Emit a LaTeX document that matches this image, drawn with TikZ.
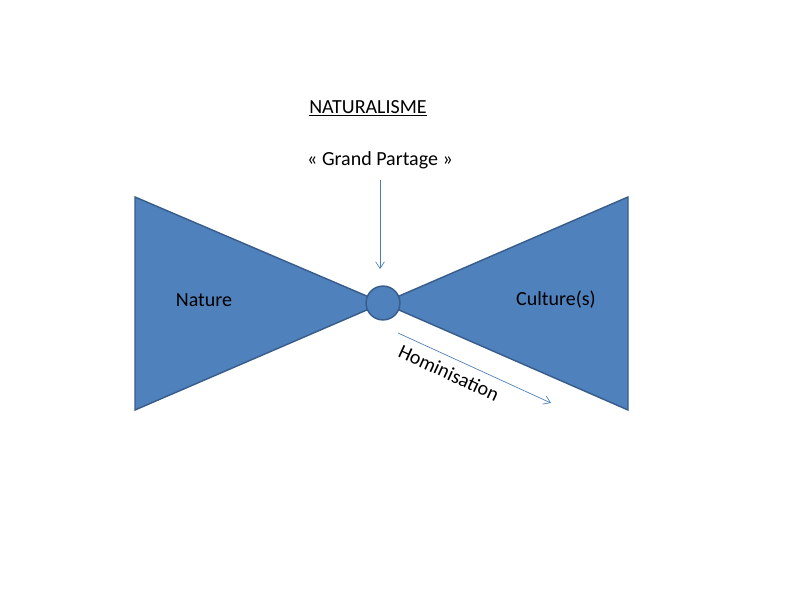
\documentclass[tikz,border=0pt]{standalone}
\usepackage{fontspec}
\setmainfont{Carlito}
\usetikzlibrary{arrows.meta}
\definecolor{shapefill}{HTML}{4F81BD}
\definecolor{shapeline}{HTML}{385D8A}
\definecolor{arrowcol}{HTML}{4A7EBB}
\tikzset{
  wing/.style={fill=shapefill,draw=shapeline,line width=1.3pt,line join=miter},
  knot/.style={circle,fill=shapefill,draw=shapeline,line width=1.3pt,minimum size=30.5pt,inner sep=0pt},
  lbl/.style={font=\fontsize{18}{21.6}\selectfont,inner sep=0pt,text=black},
  thinarrow/.style={draw=arrowcol,line width=0.6pt,-{Straight Barb[length=6pt,width=8pt]}}
}
\begin{document}
\begin{tikzpicture}[x=0.9pt,y=-0.9pt]
\useasboundingbox (0,0) rectangle (800,600);
\fill[white] (0,0) rectangle (800,600);
\coordinate (ctr) at (383,303);
\draw[wing] (135,197) -- (135,410) -- (ctr) -- cycle;
\draw[wing] (628,197) -- (628,410) -- (ctr) -- cycle;
\node[knot] (k) at (ctr) {};
\node[lbl] (nat) at (368,108) {\underline{NATURALISME}};
\node[lbl] (gp) at (380,160) {« Grand Partage »};
\node[lbl] (nature) at (204,300) {Nature};
\node[lbl] (cult) at (556,300) {Culture(s)};
\coordinate (gpa) at (380,180);
\coordinate (gpb) at (380,269);
\draw[thinarrow] (gpa) -- (gpb);
\coordinate (ha) at (398,333);
\coordinate (hb) at (551,403);
\draw[thinarrow] (ha) -- (hb);
\node[lbl,rotate=-24.6] (hom) at (449,373) {Hominisation};
\end{tikzpicture}
\end{document}
